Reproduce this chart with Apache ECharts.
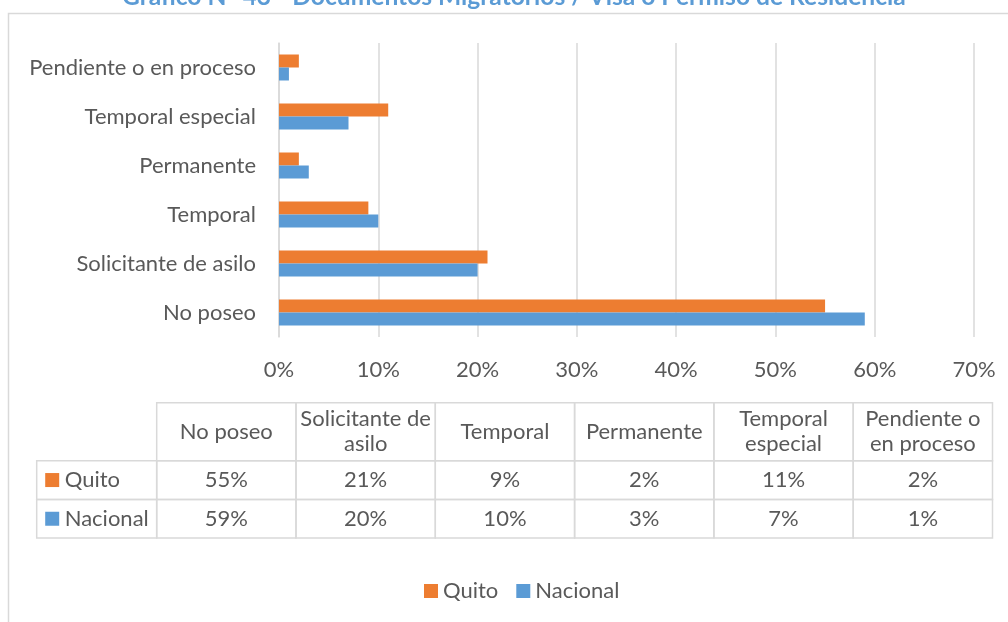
<!DOCTYPE html>
<html>
<head>
<meta charset="utf-8">
<style>
  html, body { margin: 0; padding: 0; background: #ffffff; }
  #chart { width: 1008px; height: 622px; }
</style>
<script src="https://cdn.jsdelivr.net/npm/echarts@6/dist/echarts.min.js"></script>
</head>
<body>
<div id="chart"></div>
<script>
// Documentos migratorios: porcentaje por tipo, Quito vs. Nacional
const categories = ['No poseo', 'Solicitante de asilo', 'Temporal', 'Permanente', 'Temporal especial', 'Pendiente o en proceso'];
const tableHeaders = ['No poseo', 'Solicitante de\nasilo', 'Temporal', 'Permanente', 'Temporal\nespecial', 'Pendiente o\nen proceso'];
const quito = [55, 21, 9, 2, 11, 2];
const nacional = [59, 20, 10, 3, 7, 1];
const seriesNames = ['Quito', 'Nacional'];
const tickValues = [0, 10, 20, 30, 40, 50, 60, 70];

const FONT = 'Lato, "Open Sans", sans-serif';
const TXT = '#595959';
const LINE = '#d9d9d9';
const ORANGE = '#ED7D31';
const BLUE = '#5B9BD5';
const FS = 22;

// data table under the plot
const tbl = { x0: 36.7, x1: 156.7, colW: 139.3, y0: 402.7, hHead: 58, hRow: 38.7 };
const rows = [
  { name: seriesNames[0], color: ORANGE, values: quito },
  { name: seriesNames[1], color: BLUE, values: nacional }
];
const g = [];
// outer frame
g.push({ type: 'rect', shape: { x: 8.5, y: 13.5, width: 1100, height: 800 }, style: { fill: 'none', stroke: LINE, lineWidth: 1.5 }, z: -10, silent: true });
tableHeaders.forEach(function (c, i) {
  const x = tbl.x1 + i * tbl.colW;
  g.push({ type: 'rect', shape: { x: x, y: tbl.y0, width: tbl.colW, height: tbl.hHead }, style: { fill: 'none', stroke: LINE, lineWidth: 1.5 }, silent: true });
  g.push({ type: 'text', x: x + tbl.colW / 2, y: tbl.y0 + tbl.hHead / 2, style: { text: c, align: 'center', verticalAlign: 'middle', fill: TXT, font: FS + 'px ' + FONT, lineHeight: 25 }, silent: true });
});
rows.forEach(function (r, j) {
  const y = tbl.y0 + tbl.hHead + j * tbl.hRow;
  g.push({ type: 'rect', shape: { x: tbl.x0, y: y, width: tbl.x1 - tbl.x0, height: tbl.hRow }, style: { fill: 'none', stroke: LINE, lineWidth: 1.5 }, silent: true });
  g.push({ type: 'rect', shape: { x: tbl.x0 + 8.5, y: y + tbl.hRow / 2 - 7, width: 14, height: 14 }, style: { fill: r.color }, silent: true });
  g.push({ type: 'text', x: tbl.x0 + 28, y: y + tbl.hRow / 2, style: { text: r.name, align: 'left', verticalAlign: 'middle', fill: TXT, font: FS + 'px ' + FONT }, silent: true });
  r.values.forEach(function (v, i) {
    const x = tbl.x1 + i * tbl.colW;
    g.push({ type: 'rect', shape: { x: x, y: y, width: tbl.colW, height: tbl.hRow }, style: { fill: 'none', stroke: LINE, lineWidth: 1.5 }, silent: true });
    g.push({ type: 'text', x: x + tbl.colW / 2, y: y + tbl.hRow / 2, style: { text: v + '%', align: 'center', verticalAlign: 'middle', fill: TXT, font: FS + 'px ' + FONT }, silent: true });
  });
});

const chart = echarts.init(document.getElementById('chart'), null, { renderer: 'canvas' });
chart.setOption({
  animation: false,
  backgroundColor: '#ffffff',
  textStyle: { fontFamily: FONT },
  title: {
    text: 'Gráfico N° 43 - Documentos Migratorios / Visa o Permiso de Residencia',
    left: 122,
    top: -15,
    padding: 0,
    textStyle: { color: BLUE, fontSize: 24.6, fontWeight: 'bold', fontFamily: FONT }
  },
  legend: {
    data: seriesNames,
    left: 419,
    top: 575,
    icon: 'rect',
    itemWidth: 14,
    itemHeight: 14,
    itemGap: 18,
    textStyle: { color: TXT, fontSize: FS, fontFamily: FONT }
  },
  grid: { left: 279, right: 34, top: 43, bottom: 285, containLabel: false },
  xAxis: {
    type: 'value',
    min: tickValues[0],
    max: tickValues[tickValues.length - 1],
    interval: 10,
    axisLine: { show: false },
    axisTick: { show: false },
    axisLabel: { color: TXT, fontSize: FS, fontFamily: FONT, margin: 22, formatter: '{value}%' },
    splitLine: { show: true, lineStyle: { color: LINE, width: 1.5 } }
  },
  yAxis: {
    type: 'category',
    data: categories,
    axisLine: { show: true, lineStyle: { color: LINE, width: 1.5 } },
    axisTick: { show: false },
    axisLabel: { color: TXT, fontSize: FS, fontFamily: FONT, margin: 23 }
  },
  series: [
    { name: seriesNames[0], type: 'bar', data: quito, barWidth: 13, barGap: '0%', itemStyle: { color: ORANGE } },
    { name: seriesNames[1], type: 'bar', data: nacional, barWidth: 13, barGap: '0%', itemStyle: { color: BLUE } }
  ],
  graphic: g
});
</script>
</body>
</html>
